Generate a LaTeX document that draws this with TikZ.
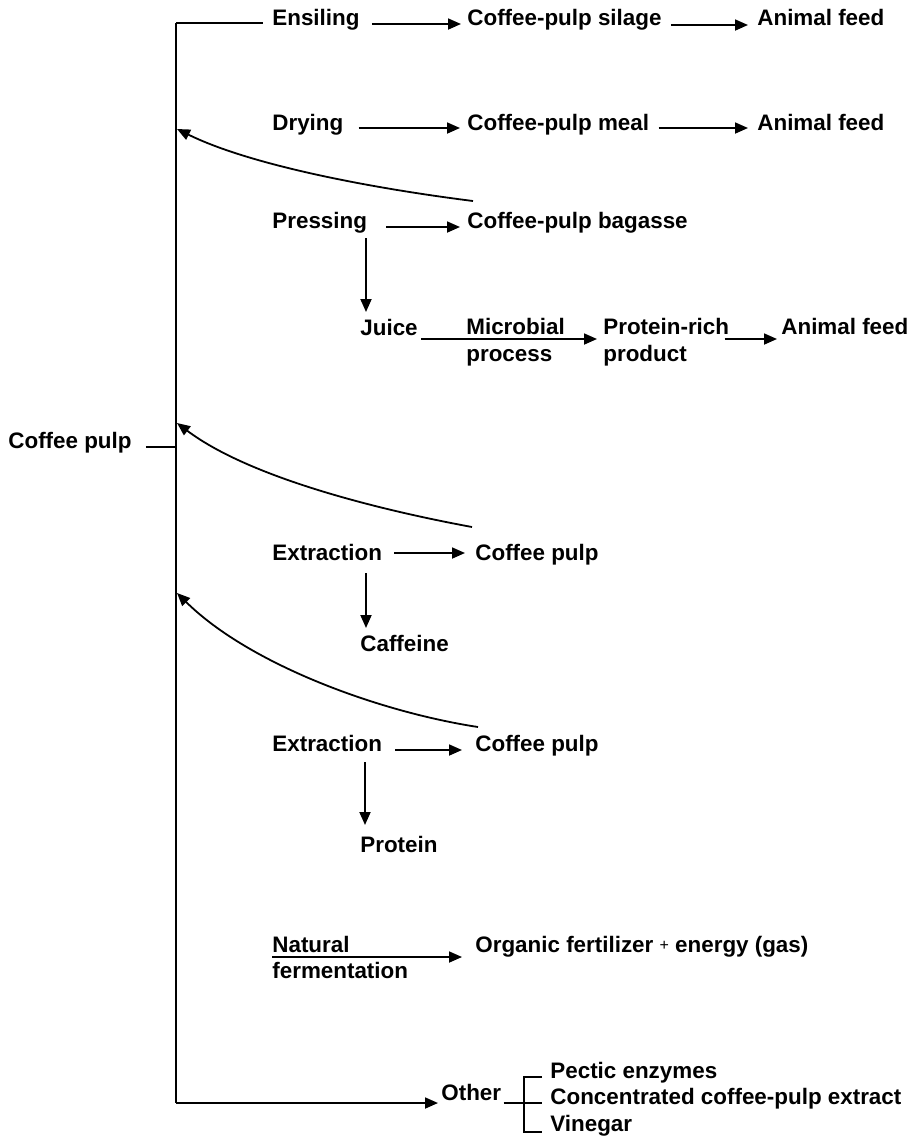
\documentclass[tikz,border=0pt]{standalone}
\usepackage{fontspec}
\setmainfont{Liberation Sans}
\usetikzlibrary{arrows.meta}
\newcommand\lblfont{\fontsize{11.2pt}{13.5pt}\selectfont\bfseries}
\tikzset{
  lbl/.style={anchor=base west, inner sep=0pt, font=\lblfont},
  ln/.style={line width=0.9pt},
  arr/.style={line width=0.9pt, -{Triangle[length=6.5pt,width=5.5pt]}}
}
\begin{document}
\begin{tikzpicture}[x=0.5pt,y=-0.5pt]
\useasboundingbox (0,0) rectangle (920,1137);
% spine coordinates
\coordinate (top) at (176,23);
\coordinate (bot) at (176,1103);
\coordinate (cpj) at (176,447);
\coordinate (r1) at (177,129);
\coordinate (r2) at (177,423);
\coordinate (r3) at (177,593);
% labels
\node[lbl] (ens) at (272,25) {Ensiling};
\node[lbl] (sil) at (467,25) {Coffee-pulp silage};
\node[lbl] (af1) at (757,25) {Animal feed};
\node[lbl] (dry) at (272,130) {Drying};
\node[lbl] (meal) at (467,130) {Coffee-pulp meal};
\node[lbl] (af2) at (757,130) {Animal feed};
\node[lbl] (pre) at (272,228) {Pressing};
\node[lbl] (bag) at (467,228) {Coffee-pulp bagasse};
\node[lbl] (jui) at (360,335) {Juice};
\node[lbl] (mic) at (466,334) {Microbial};
\node[lbl] (proc) at (466,361) {process};
\node[lbl] (prr) at (603,334) {Protein-rich};
\node[lbl] (prod) at (603,361) {product};
\node[lbl] (af3) at (781,334) {Animal feed};
\node[lbl] (cp) at (8,448) {Coffee pulp};
\node[lbl] (ex1) at (272,560) {Extraction};
\node[lbl] (cp1) at (475,560) {Coffee pulp};
\node[lbl] (caf) at (360,651) {Caffeine};
\node[lbl] (ex2) at (272,751) {Extraction};
\node[lbl] (cp2) at (475,751) {Coffee pulp};
\node[lbl] (prot) at (360,852) {Protein};
\node[lbl] (nat) at (272,952) {Natural};
\node[lbl] (fer) at (272,978) {fermentation};
\node[lbl] (org) at (475,952) {Organic fertilizer \raisebox{0.15ex}{\fontsize{8pt}{9pt}\selectfont\mdseries+} energy (gas)};
\node[lbl] (oth) at (441,1100) {Other};
\node[lbl] (pec) at (550,1078) {Pectic enzymes};
\node[lbl] (con) at (550,1104) {Concentrated coffee-pulp extract};
\node[lbl] (vin) at (550,1131) {Vinegar};
% spine
\draw[ln] (top) -- (bot);
\draw[ln] (top) -- ([xshift=-4.5pt,yshift=1pt]ens.base west);
\draw[ln] ([xshift=7pt,yshift=0.5pt]cp.base east) -- (cpj);
% row 1
\draw[arr] ([xshift=6pt,yshift=0.5pt]ens.base east) -- ([xshift=-3pt,yshift=0.5pt]sil.base west);
\draw[arr] ([xshift=4.5pt]sil.base east) -- ([xshift=-4.5pt]af1.base west);
% row 2
\draw[arr] ([xshift=7.5pt,yshift=1pt]dry.base east) -- ([xshift=-3.5pt,yshift=1pt]meal.base west);
\draw[arr] ([xshift=4.5pt,yshift=1pt]meal.base east) -- ([xshift=-4.5pt,yshift=1pt]af2.base west);
% pressing
\draw[arr] ([xshift=9.5pt,yshift=0.5pt]pre.base east) -- ([xshift=-3.5pt,yshift=0.5pt]bag.base west);
\draw[arr] ([xshift=47pt,yshift=-5pt]pre.base west) -- ++(0,74);
\draw[arr] ([xshift=1.5pt,yshift=-2pt]jui.base east) -- ([xshift=-3pt,yshift=-2.5pt]prr.base west);
\draw[arr] ([xshift=-2.5pt,yshift=-2.5pt]prr.base east) -- ([xshift=-2pt,yshift=-2.5pt]af3.base west);
% extraction 1
\draw[arr] ([xshift=6pt,yshift=3.5pt]ex1.base east) -- ([xshift=-5pt,yshift=3.5pt]cp1.base west);
\draw[arr] ([xshift=47pt,yshift=-6.5pt]ex1.base west) -- ++(0,55);
% extraction 2
\draw[arr] ([xshift=6.5pt,yshift=0.5pt]ex2.base east) -- ([xshift=-6.5pt,yshift=0.5pt]cp2.base west);
\draw[arr] ([xshift=46.5pt,yshift=-5.5pt]ex2.base west) -- ++(0,63);
% natural fermentation
\draw[arr] ([yshift=-2.5pt]nat.base west) -- ([xshift=-6.5pt,yshift=-2.5pt]org.base west);
% other
\draw[arr] (bot) -- ([xshift=-1.5pt,yshift=-1.5pt]oth.base west);
\draw[ln] ([xshift=1pt,yshift=-1.5pt]oth.base east) -- ([xshift=-4pt,yshift=0.5pt]con.base west);
\draw[ln] ([xshift=-4pt,yshift=0.5pt]pec.base west) -- ([xshift=-13pt,yshift=0.5pt]pec.base west)
   -- ([xshift=-13pt,yshift=-0.5pt]vin.base west) -- ([xshift=-4pt,yshift=-0.5pt]vin.base west);
% return curves
\draw[arr] ([xshift=3pt,yshift=13.5pt]bag.base west) .. controls (370,188) and (250,165) .. (r1);
\draw[arr] ([xshift=-1.5pt,yshift=16.5pt]cp1.base west) .. controls (380,510) and (250,478) .. (r2);
\draw[arr] ([xshift=1.5pt,yshift=12pt]cp2.base west) .. controls (380,712) and (250,665) .. (r3);
\end{tikzpicture}
\end{document}
